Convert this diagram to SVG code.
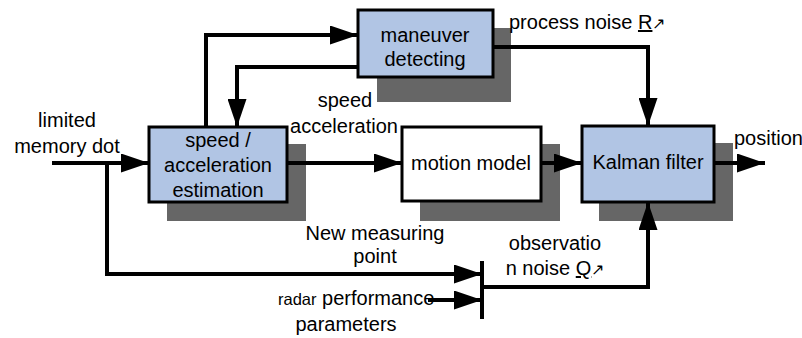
<svg xmlns="http://www.w3.org/2000/svg" width="802" height="338" viewBox="0 0 802 338">
  <style>
    .box { stroke: #000; stroke-width: 3; }
    .blue { fill: #b1c5e4; }
    .white { fill: #ffffff; }
    .shadow { fill: #666666; }
    .line { fill: none; stroke: #000; stroke-width: 4; stroke-linejoin: miter; }
    text { font-family: "Liberation Sans", Arial, sans-serif; font-size: 20px; fill: #000; }
    .c { text-anchor: middle; }
  </style>
  <defs>
    <marker id="arrow" viewBox="0 0 28 19" refX="28" refY="9.5" markerWidth="28" markerHeight="19" markerUnits="userSpaceOnUse" orient="auto">
      <path d="M0,0 L28,9.5 L0,19 Z" fill="#000"/>
    </marker>
  </defs>

  <!-- drop shadows behind the blocks -->
  <rect class="shadow" x="377" y="28" width="134" height="74"/>
  <rect class="shadow" x="167" y="144" width="139" height="77"/>
  <rect class="shadow" x="420" y="144" width="140" height="77"/>
  <rect class="shadow" x="599" y="143" width="134" height="78"/>

  <!-- connectors -->
  <g id="connectors">
    <polyline class="line" points="52,163 149,163" marker-end="url(#arrow)"/>
    <polyline class="line" points="206,127 206,35 358,35" marker-end="url(#arrow)"/>
    <polyline class="line" points="358,67 237,67 237,127" marker-end="url(#arrow)"/>
    <polyline class="line" points="493,47 648,47 648,126" marker-end="url(#arrow)"/>
    <polyline class="line" points="287,163 402,163" marker-end="url(#arrow)"/>
    <polyline class="line" points="541,163 582,163" marker-end="url(#arrow)"/>
    <polyline class="line" points="714,163 765,163" marker-end="url(#arrow)"/>
    <polyline class="line" points="107,163 107,274 482,274" marker-end="url(#arrow)"/>
    <polyline class="line" points="428,300 482,300" marker-end="url(#arrow)"/>
    <line class="line" x1="482" y1="261" x2="482" y2="319"/>
    <polyline class="line" points="482,287 648,287 648,202" marker-end="url(#arrow)"/>
  </g>

  <!-- blocks -->
  <g id="maneuver">
    <rect class="box blue" x="358" y="10" width="135" height="67"/>
    <text class="c" x="425" y="42">maneuver</text>
    <text class="c" x="425" y="66">detecting</text>
  </g>
  <g id="estimation">
    <rect class="box blue" x="149" y="127" width="138" height="75"/>
    <text class="c" x="218" y="147">speed /</text>
    <text class="c" x="218" y="172">acceleration</text>
    <text class="c" x="218" y="197">estimation</text>
  </g>
  <g id="motion">
    <rect class="box white" x="402" y="127" width="139" height="74"/>
    <text class="c" x="471" y="170">motion model</text>
  </g>
  <g id="kalman">
    <rect class="box blue" x="582" y="126" width="132" height="76"/>
    <text class="c" x="648" y="169">Kalman filter</text>
  </g>

  <!-- signal labels -->
  <g id="labels">
    <text class="c" x="67" y="127">limited</text>
    <text class="c" x="67" y="153">memory dot</text>
    <text x="509" y="29">process noise <tspan text-decoration="underline">R</tspan><tspan font-size="16">↗</tspan></text>
    <text class="c" x="345" y="107">speed</text>
    <text class="c" x="344" y="133">acceleration</text>
    <text x="734" y="145" font-size="18.5">position</text>
    <text class="c" x="375" y="240">New measuring</text>
    <text class="c" x="375" y="263">point</text>
    <text x="278" y="305"><tspan font-size="16.5">radar</tspan> performance</text>
    <text class="c" x="346" y="331">parameters</text>
    <text class="c" x="555" y="250">observatio</text>
    <text class="c" x="555" y="275">n noise <tspan text-decoration="underline">Q</tspan><tspan font-size="16">↗</tspan></text>
  </g>
</svg>
